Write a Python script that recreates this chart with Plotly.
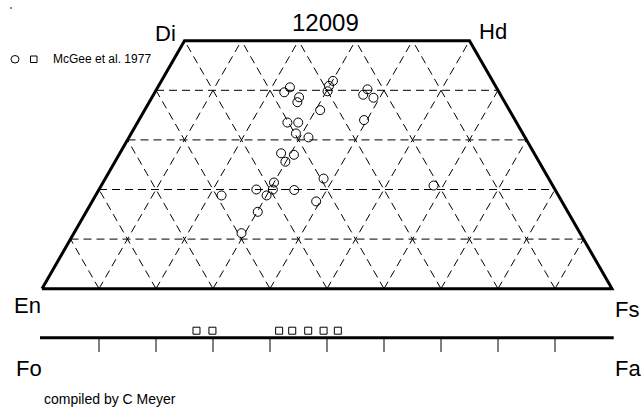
import plotly.graph_objects as go

# Pyroxene analyses for lunar basalt 12009 (mole %: Wo, En, Fs)
WO = [40.6, 39.6, 38.6, 37.6, 41.9, 40.9, 39.8, 40.2, 39.1, 38.5,
      36.0, 34.0, 33.5, 33.5, 31.3, 30.5, 27.3, 27.0, 25.6, 22.2,
      21.4, 20.0, 20.0, 18.8, 19.9, 18.8, 17.6, 20.8, 15.5, 11.2]
EN = [36.2, 37.7, 35.6, 36.4, 28.0, 29.2, 30.0, 22.8, 24.1, 22.6,
      33.2, 26.5, 40.2, 38.3, 39.8, 38.0, 44.4, 42.3, 44.5, 39.5,
      48.6, 52.4, 49.5, 51.2, 45.8, 59.1, 43.1, 20.9, 54.4, 59.4]
FS = [23.2, 22.7, 25.8, 26.0, 30.1, 29.9, 30.2, 37.0, 36.8, 38.9,
      30.8, 39.5, 26.3, 28.2, 28.9, 31.5, 28.3, 30.7, 29.9, 38.3,
      30.0, 27.6, 30.5, 30.0, 34.3, 22.1, 39.3, 58.3, 30.1, 29.4]

# Olivine analyses (mole % Fa)
OL_FA = [27.1, 29.9, 41.6, 43.9, 46.7, 49.4, 51.9]

# Grid / tick levels (mole %)
GRID_STEPS = [10, 20, 30, 40, 50, 60, 70, 80, 90]
WO_LEVELS = [10, 20, 30, 40]
WO_TOP = 50

TITLE = "12009"
CORNERS = {"Di": "Di", "Hd": "Hd", "En": "En", "Fs": "Fs", "Fo": "Fo", "Fa": "Fa"}
LEGEND_TEXT = "McGee et al. 1977"
CREDIT = "compiled by C Meyer"

W, H = 642, 407
FONT = "Liberation Sans, Arial, sans-serif"


def proj(wo, fs):
    """Quadrilateral projection: x = Fs + Wo/2, y = Wo (fractions)."""
    return fs + wo / 2.0, wo


def px(x):
    return x / W


def py(y):
    return 1 - y / H


fig = go.Figure()

# dashed triangular grid
gx, gy = [], []


def seg(p, q):
    gx.extend([p[0], q[0], None])
    gy.extend([p[1], q[1], None])


top = WO_TOP / 100
for w in WO_LEVELS:
    w = w / 100
    seg(proj(w, 0), proj(w, 1 - w))
for s in GRID_STEPS:
    f = s / 100
    # line of constant Fs, running up towards the Di-Hd join
    t1 = min(top, 1 - f)
    seg(proj(0, f), proj(t1, f))
    # line of constant En (En = 1 - f), Fs falls as Wo rises
    t2 = min(top, f)
    seg(proj(0, f), proj(t2, f - t2))

fig.add_trace(go.Scatter(x=gx, y=gy, mode="lines", hoverinfo="skip",
                         line=dict(color="black", width=1, dash="8px,5px")))

# quadrilateral outline En-Fs-Hd-Di
quad = [proj(0, 0), proj(0, 1), proj(top, top), proj(top, 0), proj(0, 0)]
fig.add_trace(go.Scatter(x=[p[0] for p in quad], y=[p[1] for p in quad],
                         mode="lines", hoverinfo="skip",
                         line=dict(color="black", width=3)))

# pyroxene points
pts = [proj(w / 100, f / 100) for w, f in zip(WO, FS)]
fig.add_trace(go.Scatter(x=[p[0] for p in pts], y=[p[1] for p in pts],
                         mode="markers",
                         marker=dict(symbol="circle-open", size=9,
                                     color="black", line=dict(width=1))))

# olivine bar Fo-Fa
OL_Y = -0.0988
TICK_LEN = 0.0288
fig.add_trace(go.Scatter(x=[-0.0035, 1.003], y=[OL_Y, OL_Y], mode="lines",
                         hoverinfo="skip", line=dict(color="black", width=3)))
tx, ty = [], []
for s in GRID_STEPS:
    tx.extend([s / 100, s / 100, None])
    ty.extend([OL_Y, OL_Y - TICK_LEN, None])
fig.add_trace(go.Scatter(x=tx, y=ty, mode="lines", hoverinfo="skip",
                         line=dict(color="black", width=1)))
fig.add_trace(go.Scatter(x=[fa / 100 for fa in OL_FA],
                         y=[OL_Y + 0.0141] * len(OL_FA), mode="markers",
                         marker=dict(symbol="square-open", size=7,
                                     color="black", line=dict(width=1))))

# labels
labels = [
    (TITLE, 325, 22, 24),
    (CORNERS["Di"], 166, 33, 22),
    (CORNERS["Hd"], 493, 32, 22),
    (CORNERS["En"], 27, 305, 22),
    (CORNERS["Fs"], 627, 309, 22),
    (CORNERS["Fo"], 29, 368, 22),
    (CORNERS["Fa"], 628, 368, 22),
]
ann = []
for text, x, y, size in labels:
    ann.append(dict(text=text, x=px(x), y=py(y), xref="paper", yref="paper",
                    xanchor="center", yanchor="middle", showarrow=False,
                    font=dict(family=FONT, size=size, color="black")))
ann.append(dict(text=LEGEND_TEXT, x=px(51), y=py(59.5), xref="paper",
                yref="paper", xanchor="left", yanchor="middle",
                showarrow=False, font=dict(family=FONT, size=12, color="black")))
ann.append(dict(text=CREDIT, x=px(42), y=py(399), xref="paper",
                yref="paper", xanchor="left", yanchor="middle",
                showarrow=False, font=dict(family=FONT, size=14, color="black")))

shapes = [
    # legend glyphs
    dict(type="circle", xref="paper", yref="paper",
         x0=px(11), x1=px(19), y0=py(63), y1=py(55.5),
         line=dict(color="black", width=1)),
    dict(type="rect", xref="paper", yref="paper",
         x0=px(30.5), x1=px(37), y0=py(62.5), y1=py(56),
         line=dict(color="black", width=1)),
    # small mark at the top-left corner
    dict(type="rect", xref="paper", yref="paper",
         x0=px(10), x1=px(12), y0=py(9), y1=py(7),
         fillcolor="#888888", line=dict(width=0)),
]

fig.update_layout(
    width=W, height=H,
    margin=dict(l=0, r=0, t=0, b=0),
    paper_bgcolor="white", plot_bgcolor="white",
    showlegend=False,
    xaxis=dict(range=[-42 / 570, 600 / 570], visible=False, fixedrange=True),
    yaxis=dict(range=[-(H - 288.7) / 496, 288.7 / 496], visible=False,
               fixedrange=True),
    annotations=ann,
    shapes=shapes,
)

fig.write_html("out.html")
